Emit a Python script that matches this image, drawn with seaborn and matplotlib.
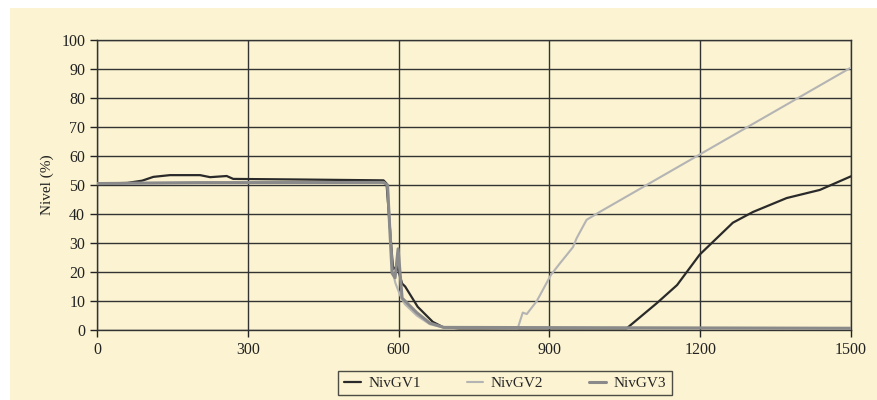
import seaborn as sns
import matplotlib.pyplot as plt
import matplotlib.patches as mpatches
import pandas as pd

# breakpoints (time, level %)
t_gv1 = [0, 60, 90, 112, 145, 205, 225, 258, 271, 400, 570, 576, 589, 597, 607, 613, 638, 668, 688, 720, 1054, 1114, 1154, 1199, 1265, 1305, 1372, 1438, 1500]
n_gv1 = [50.5, 50.7, 51.5, 52.8, 53.4, 53.4, 52.7, 53.1, 52.1, 51.9, 51.6, 50.5, 21, 22, 16, 15, 8, 2.8, 1.0, 0.6, 0.6, 9.3, 15.5, 26, 37, 40.7, 45.5, 48.3, 53]

t_gv2 = [0, 200, 570, 578, 588, 594, 603, 612, 636, 662, 690, 837, 847, 855, 875, 903, 921, 935, 947, 954, 974, 1000, 1500]
n_gv2 = [50.6, 50.9, 51.0, 50, 20, 16, 12, 9, 5, 2.0, 0.8, 0.6, 6, 5.5, 10, 19, 23, 26, 28.6, 31.6, 38, 40.7, 90.5]

t_gv3 = [0, 200, 570, 578, 587, 593, 599, 607, 636, 662, 690, 1500]
n_gv3 = [50.5, 50.8, 50.9, 50, 19.6, 18, 28, 11, 6, 2.4, 0.9, 0.6]

series = ["NivGV1", "NivGV2", "NivGV3"]
df = pd.concat([
    pd.DataFrame({"t": t_gv1, "nivel": n_gv1, "serie": "NivGV1"}),
    pd.DataFrame({"t": t_gv2, "nivel": n_gv2, "serie": "NivGV2"}),
    pd.DataFrame({"t": t_gv3, "nivel": n_gv3, "serie": "NivGV3"}),
])

cream = "#FBF3D1"
sns.set_theme(style="ticks")
plt.rcParams["font.family"] = ["Liberation Serif", "DejaVu Serif"]

fig = plt.figure(figsize=(8.78, 4), dpi=100, facecolor="white")
fig.patches.append(mpatches.Rectangle((10 / 878, 0), 1, 1 - 8 / 400, transform=fig.transFigure,
                                      facecolor=cream, edgecolor="none", zorder=-10))
ax = fig.add_axes([97 / 878, 0.175, (851 - 97) / 878, 0.725])
ax.set_facecolor(cream)

palette = {"NivGV1": "#2a2a2a", "NivGV2": "#b4b4b4", "NivGV3": "#8a8a8a"}
widths = {"NivGV1": 1.6, "NivGV2": 1.5, "NivGV3": 2.2}
for s in series:
    sns.lineplot(data=df[df["serie"] == s], x="t", y="nivel", color=palette[s],
                 linewidth=widths[s], estimator=None, ax=ax, label=s, zorder=3)

ax.set_xlim(0, 1500)
ax.set_ylim(0, 100)
ax.set_xticks(range(0, 1501, 300))
ax.set_yticks(range(0, 101, 10))
ax.grid(True, color="#333333", linewidth=1.0)
for sp in ax.spines.values():
    sp.set_color("#333333")
    sp.set_linewidth(1.0)
ax.tick_params(axis="both", labelsize=11.5, colors="#222222", length=5, width=1, direction="out")
ax.set_xlabel("")
ax.set_ylabel("Nivel (%)", fontsize=11, color="#222222", labelpad=5)

leg = ax.legend(loc="center", bbox_to_anchor=(505 / 878, 17 / 400), bbox_transform=fig.transFigure,
                ncol=3, frameon=True, fancybox=False, fontsize=11, handlelength=1.1,
                handletextpad=0.5, columnspacing=3.0, borderpad=0.35)
leg.get_frame().set_edgecolor("#222222")
leg.get_frame().set_facecolor(cream)
leg.get_frame().set_linewidth(1.0)

fig.savefig("out.png", dpi=100, facecolor=fig.get_facecolor())
